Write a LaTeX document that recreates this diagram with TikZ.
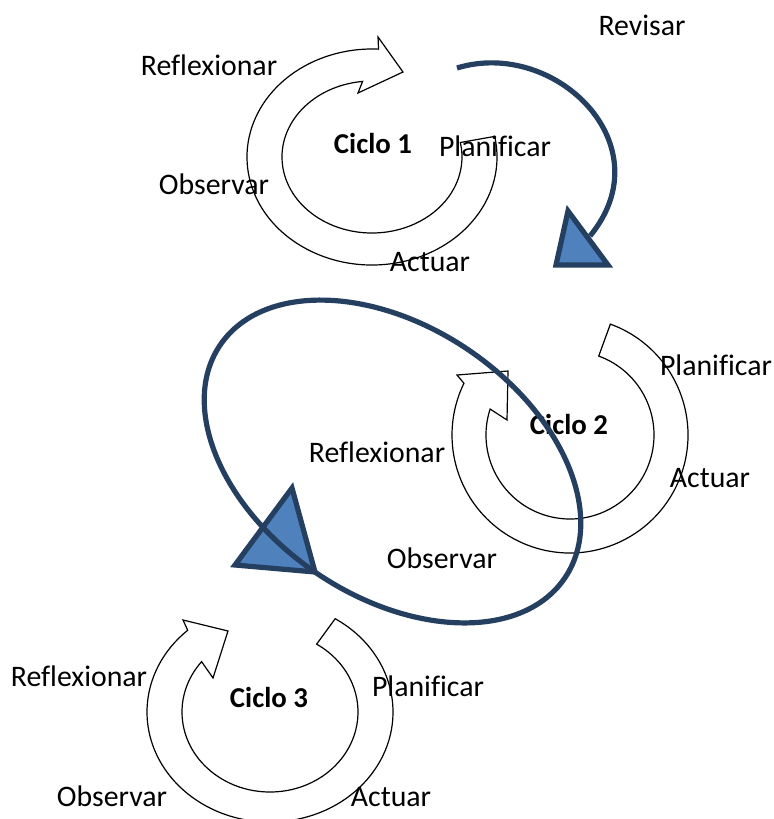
\documentclass[tikz,border=0pt]{standalone}
\usepackage{fontspec}
\setmainfont{Carlito}[Ligatures=NoCommon]
\definecolor{darkline}{HTML}{243F60}
\definecolor{lightfill}{HTML}{4F81BD}
\begin{document}
\begin{tikzpicture}[x=0.5pt,y=-0.5pt]
  \tikzset{
    ring/.style={draw=black,fill=white,line width=0.6pt},
    bigarc/.style={draw=darkline,line width=2.6pt},
    bighead/.style={draw=darkline,fill=lightfill,line width=2.6pt,line join=miter},
    lbl/.style={font=\fontsize{14.9}{18}\selectfont,inner sep=0pt,anchor=base},
    title/.style={lbl,font=\fontsize{14.4}{18}\selectfont\bfseries}
  }
  \useasboundingbox (0,0) rectangle (773,819);
  \coordinate (c1) at (372,157);
  \coordinate (c2) at (570,435);
  \coordinate (c3) at (270,712);
  \coordinate (c4) at (392.5,461.5);
  % ciclos
  \draw[ring] ([shift={(-11:125 and 108)}]c1) arc[start angle=-11,end angle=273,x radius=125,y radius=108]
    -- (378,37) -- (403,72) -- (358,93)
    -- ([shift={(264:90 and 76)}]c1) arc[start angle=264,end angle=-11,x radius=90,y radius=76] -- cycle;
  \draw[ring] ([shift={(-70:118 and 118)}]c2) arc[start angle=-70,end angle=206,radius=118]
    -- (457,375) -- (508,371) -- (507,420)
    -- ([shift={(198:84 and 84)}]c2) arc[start angle=198,end angle=-70,radius=84] -- cycle;
  \draw[ring] ([shift={(-58:123 and 110)}]c3) arc[start angle=-58,end angle=228,x radius=123,y radius=110]
    -- (183,620) -- (228,631) -- (213,678)
    -- ([shift={(219:88 and 80)}]c3) arc[start angle=219,end angle=-58,x radius=88,y radius=80] -- cycle;
  % textos
  \node[lbl] (revisar) at (642,35) {Revisar};
  \node[lbl] (ref1) at (209,75) {Reflexionar};
  \node[title] (ciclo1) at (373,153) {Ciclo 1};
  \node[lbl] (plan1) at (495,156) {Planificar};
  \node[lbl] (obs1) at (214,194) {Observar};
  \node[lbl] (act1) at (430,271) {Actuar};
  \node[lbl] (plan2) at (716,375) {Planificar};
  \node[title] (ciclo2) at (569,434) {Ciclo 2};
  \node[lbl] (act2) at (710,487) {Actuar};
  \node[lbl] (ref2) at (377,462) {Reflexionar};
  \node[lbl] (obs2) at (442,568) {Observar};
  \node[lbl] (ref3) at (79,686) {Reflexionar};
  \node[title] (ciclo3) at (269,707) {Ciclo 3};
  \node[lbl] (plan3) at (428,696) {Planificar};
  \node[lbl] (obs3) at (112,806) {Observar};
  \node[lbl] (act3) at (391,806) {Actuar};
  % flechas
  \coordinate (revS) at (457,68);
  \coordinate (revE) at (590,236);
  \draw[bigarc] (revS) .. controls (555,38) and (665,145) .. (revE);
  \draw[bighead] (568,211) -- (556,265) -- (608,265) -- cycle;
  \draw[bighead] (292,488) -- (235,565) -- (315,572) -- cycle;
  \draw[bigarc,shift={(c4)},rotate=-34] (91:208 and 135) arc[start angle=91,end angle=-269,x radius=208,y radius=135];
\end{tikzpicture}
\end{document}
